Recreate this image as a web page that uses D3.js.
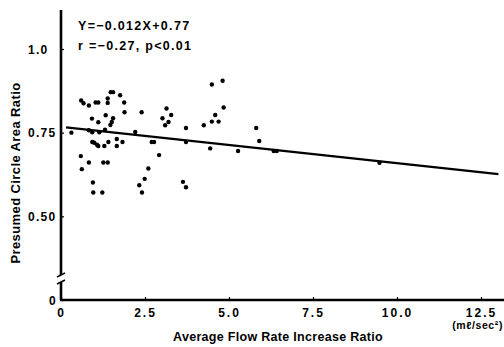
<!DOCTYPE html>
<html>
<head>
<meta charset="utf-8">
<script src="https://cdn.jsdelivr.net/npm/d3@7"></script>
<style>
  body { margin: 0; background: #fff; }
  svg { font-family: "Liberation Sans", Arial, sans-serif; font-weight: bold; }
</style>
</head>
<body>
<div id="graphic"></div>
<script>
// data
var flowRatio = [0.31, 0.60, 0.67, 0.83, 1.03, 1.11, 0.92, 1.11, 1.33, 1.39, 1.39, 1.48, 1.55, 1.76, 1.88, 1.89,
                 1.55, 1.51, 1.47, 0.83, 0.93, 1.14, 1.31, 0.93, 0.99, 1.07, 1.11, 1.29, 1.41, 1.66, 1.66, 1.83,
                 2.21, 2.40, 2.70, 2.77, 2.92, 3.02, 3.14, 3.28, 3.20, 3.10, 3.72, 3.72, 4.25, 4.49, 4.81, 4.59,
                 4.49, 4.69, 4.84, 4.44, 5.27, 5.81, 5.90, 6.33, 6.42, 9.48, 0.59, 0.62, 0.83, 1.26, 1.39, 0.95,
                 0.96, 1.23, 2.60, 2.49, 2.33, 2.41, 3.63, 3.72];
var areaRatio = [0.750, 0.846, 0.838, 0.831, 0.840, 0.840, 0.792, 0.781, 0.802, 0.852, 0.839, 0.871, 0.871, 0.862, 0.840, 0.811,
                 0.793, 0.782, 0.773, 0.757, 0.751, 0.751, 0.759, 0.722, 0.720, 0.714, 0.710, 0.710, 0.722, 0.731, 0.710, 0.722,
                 0.752, 0.811, 0.722, 0.722, 0.683, 0.793, 0.822, 0.803, 0.782, 0.772, 0.764, 0.722, 0.772, 0.894, 0.905, 0.803,
                 0.783, 0.783, 0.825, 0.703, 0.695, 0.764, 0.725, 0.695, 0.695, 0.660, 0.680, 0.641, 0.661, 0.661, 0.661, 0.601,
                 0.571, 0.571, 0.643, 0.612, 0.593, 0.571, 0.603, 0.587];

// regression line end points
var fitX = [0.15, 13.02];
var fitY = [0.766, 0.626];

var xTicks = [0, 2.5, 5.0, 7.5, 10.0, 12.5];
var xTickLabels = ["0", "2.5", "5.0", "7.5", "10.0", "12.5"];
// 0.25 is where the broken axis puts "0"
var yTicks = [0.25, 0.5, 0.75, 1.0];
var yTickLabels = ["0", "0.50", "0.75", "1.0"];

var width = 504, height = 347;

var svg = d3.select("#graphic").append("svg")
    .attr("width", width)
    .attr("height", height);

var x = d3.scaleLinear().domain([0, 12.5]).range([61, 481]);
var y = d3.scaleLinear().domain([0.25, 1.0]).range([300, 49]);

// x axis
var xAxis = d3.axisBottom(x)
    .tickValues(xTicks)
    .tickFormat(function(d, i) { return xTickLabels[i]; })
    .tickSizeInner(-3)
    .tickSizeOuter(0)
    .tickPadding(8);

var gx = svg.append("g")
    .attr("transform", "translate(0," + y(0.25) + ")")
    .call(xAxis);
gx.select(".domain").remove();
gx.selectAll("line").attr("stroke-width", 1.2);
gx.selectAll("text")
    .style("font-size", "12px")
    .style("letter-spacing", "2px")
    .attr("fill", "#000");

svg.append("line")
    .attr("x1", x(0) - 1).attr("x2", width)
    .attr("y1", y(0.25)).attr("y2", y(0.25))
    .attr("stroke", "#000").attr("stroke-width", 2.4);

// y axis
var yAxis = d3.axisLeft(y)
    .tickValues(yTicks)
    .tickFormat(function(d, i) { return yTickLabels[i]; })
    .tickSizeInner(-3)
    .tickSizeOuter(0)
    .tickPadding(4);

var gy = svg.append("g")
    .attr("transform", "translate(" + x(0) + ",0)")
    .call(yAxis);
gy.select(".domain").remove();
gy.selectAll("line").attr("stroke-width", 1.2);
gy.selectAll("text")
    .style("font-size", "12px")
    .style("letter-spacing", "1.3px")
    .attr("fill", "#000")
    .attr("dy", "0.36em")
    .each(function(d) {
        if (d > 0.25) d3.select(this).attr("text-anchor", "start").attr("x", 28 - x(0));
    });

// axis line with a break
var yBreakLo = 282, yBreakHi = 275;
svg.append("line")
    .attr("x1", x(0)).attr("x2", x(0))
    .attr("y1", 10).attr("y2", yBreakHi)
    .attr("stroke", "#000").attr("stroke-width", 2.6);
svg.append("line")
    .attr("x1", x(0)).attr("x2", x(0))
    .attr("y1", yBreakLo).attr("y2", y(0.25))
    .attr("stroke", "#000").attr("stroke-width", 2.6);
[yBreakHi, yBreakLo].forEach(function(v) {
    svg.append("line")
        .attr("x1", x(0) - 4).attr("x2", x(0) + 4)
        .attr("y1", v + 2).attr("y2", v - 2)
        .attr("stroke", "#000").attr("stroke-width", 1.4);
});

// regression line
svg.append("line")
    .attr("x1", x(fitX[0])).attr("y1", y(fitY[0]))
    .attr("x2", x(fitX[1])).attr("y2", y(fitY[1]))
    .attr("stroke", "#000").attr("stroke-width", 2.2);

// points
svg.append("g").selectAll("circle")
    .data(flowRatio)
    .join("circle")
    .attr("cx", function(d) { return x(d); })
    .attr("cy", function(d, i) { return y(areaRatio[i]); })
    .attr("r", 2.2)
    .attr("fill", "#000");

// equation
svg.append("text")
    .attr("x", 78).attr("y", 30)
    .style("font-size", "12.5px")
    .style("letter-spacing", "1.3px")
    .text("Y=−0.012X+0.77");
svg.append("text")
    .attr("x", 78).attr("y", 50)
    .style("font-size", "12.5px")
    .style("letter-spacing", "1.3px")
    .text("r =−0.27,  p<0.01");

// titles
svg.append("text")
    .attr("transform", "translate(20,173) rotate(-90)")
    .attr("text-anchor", "middle")
    .style("font-size", "13px")
    .style("letter-spacing", "0.4px")
    .text("Presumed Circle Area Ratio");

svg.append("text")
    .attr("x", 278).attr("y", 341)
    .attr("text-anchor", "middle")
    .style("font-size", "12.5px")
    .style("letter-spacing", "0.3px")
    .text("Average Flow Rate Increase Ratio");

svg.append("text")
    .attr("x", 503).attr("y", 329)
    .attr("text-anchor", "end")
    .style("font-size", "10.5px")
    .style("letter-spacing", "0.6px")
    .text("(mℓ/sec²)");
</script>
</body>
</html>
